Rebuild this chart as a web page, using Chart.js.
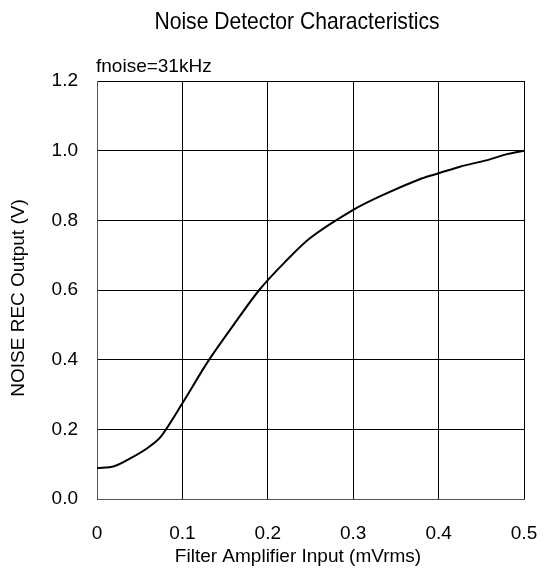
<!DOCTYPE html>
<html>
<head>
<meta charset="utf-8">
<script src="https://cdn.jsdelivr.net/npm/chart.js@4/dist/chart.umd.min.js"></script>
<style>
  html, body { margin: 0; padding: 0; background: #fff; }
  #wrap { width: 550px; height: 570px; }
</style>
</head>
<body>
<div id="wrap"><canvas id="chart" width="550" height="570"></canvas></div>
<script>
// values
const inputMv = [0, 0.02, 0.04, 0.06, 0.075, 0.1, 0.13, 0.16, 0.19, 0.22, 0.25, 0.3, 0.335, 0.38, 0.4, 0.425, 0.46, 0.48, 0.5];
const outputV = [0.088, 0.094, 0.118, 0.148, 0.18, 0.275, 0.395, 0.50, 0.60, 0.68, 0.75, 0.83, 0.873, 0.92, 0.935, 0.954, 0.975, 0.99, 1.0];
const xTicks = [0, 0.1, 0.2, 0.3, 0.4, 0.5];
const yTicks = [0, 0.2, 0.4, 0.6, 0.8, 1.0, 1.2];

const chartTitle = 'Noise Detector Characteristics';
const note = 'fnoise=31kHz';
const xTitle = 'Filter Amplifier Input (mVrms)';
const yTitle = 'NOISE REC Output (V)';

const font = "'Liberation Sans', Arial, sans-serif";

// title, note and axis titles are placed a little off the plot centre, as in the original
const textPlugin = {
    id: 'texts',
    afterDraw(chart) {
        const ctx = chart.ctx;
        const area = chart.chartArea;
        ctx.save();
        ctx.fillStyle = '#000';
        ctx.textBaseline = 'middle';
        ctx.textAlign = 'center';

        ctx.save();
        ctx.translate(297, 22);
        ctx.scale(0.88, 1);
        ctx.font = '24px ' + font;
        ctx.fillText(chartTitle, 0, 0);
        ctx.restore();

        ctx.font = '19px ' + font;
        ctx.fillText(xTitle, 298, 557);

        ctx.save();
        ctx.translate(19, 298);
        ctx.rotate(-Math.PI / 2);
        ctx.fillText(yTitle, 0, 0);
        ctx.restore();

        ctx.textAlign = 'left';
        ctx.font = '19px ' + font;
        ctx.fillText(note, area.left - 1, 67);
        ctx.restore();
    }
};

new Chart(document.getElementById('chart'), {
    type: 'line',
    data: {
        datasets: [{
            data: inputMv.map((x, i) => ({x: x, y: outputV[i]})),
            borderColor: '#000',
            borderWidth: 2,
            pointRadius: 0,
            tension: 0.3,
            fill: false
        }]
    },
    options: {
        responsive: false,
        animation: false,
        layout: { padding: { top: 81, right: 26, left: 0, bottom: 0 } },
        plugins: { legend: { display: false }, tooltip: { enabled: false } },
        scales: {
            x: {
                type: 'linear',
                min: 0, max: 0.5,
                afterBuildTicks: s => { s.ticks = xTicks.map(v => ({value: v})); },
                afterFit: s => { s.height = 71; s.paddingLeft = 0; s.paddingRight = 0; },
                ticks: {
                    color: '#000',
                    font: { family: font, size: 19 },
                    padding: 23,
                    maxRotation: 0,
                    callback: v => v === 0 ? '0' : String(v)
                },
                grid: { color: '#000', lineWidth: 1, drawTicks: false },
                border: { color: '#555', width: 1 }
            },
            y: {
                min: 0, max: 1.2,
                afterBuildTicks: s => { s.ticks = yTicks.map(v => ({value: v})); },
                afterFit: s => { s.width = 97; s.paddingTop = 0; s.paddingBottom = 0; },
                ticks: {
                    color: '#000',
                    font: { family: font, size: 19 },
                    padding: 19,
                    callback: v => v.toFixed(1)
                },
                grid: { color: '#000', lineWidth: 1, drawTicks: false },
                border: { color: '#555', width: 1 }
            }
        }
    },
    plugins: [textPlugin]
});
</script>
</body>
</html>
